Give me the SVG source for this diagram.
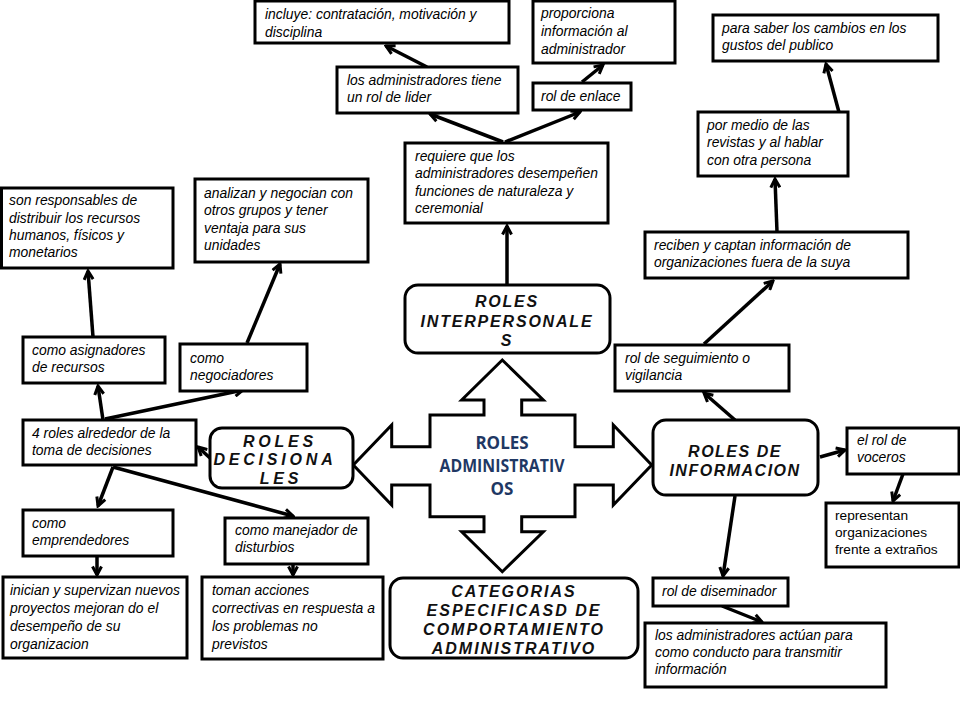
<svg xmlns="http://www.w3.org/2000/svg" width="960" height="720" viewBox="0 0 960 720">
<style>
.bx{fill:#fff;stroke:#000;stroke-width:3}
.t{font-family:"Liberation Sans",Arial,sans-serif;font-style:italic;font-size:13.9px;fill:#000}
.r{font-family:"Liberation Sans",Arial,sans-serif;font-size:13.7px;fill:#000}
.h{font-family:"Liberation Sans",Arial,sans-serif;font-style:italic;font-weight:bold;font-size:16px;fill:#111;text-anchor:middle}
.c line{stroke:#000;stroke-width:3.5;marker-end:url(#ah)}
</style>
<defs>
<marker id="ah" viewBox="0 0 12 12" refX="10" refY="6" markerWidth="12" markerHeight="12" markerUnits="userSpaceOnUse" orient="auto">
<path d="M1.5,1.5 L10,6 L1.5,10.5" fill="none" stroke="#000" stroke-width="3"/>
</marker>
</defs>
<rect width="960" height="720" fill="#fff"/>

<g id="connectors" class="c">
<line x1="507" y1="285" x2="507" y2="226"/>
<line x1="503" y1="142" x2="430" y2="114"/>
<line x1="505" y1="142" x2="580" y2="112"/>
<line x1="427" y1="67" x2="386" y2="46"/>
<line x1="582" y1="82" x2="603" y2="65"/>
<line x1="777" y1="232" x2="775" y2="179"/>
<line x1="847" y1="142" x2="826" y2="64"/>
<line x1="704" y1="344" x2="773" y2="281"/>
<line x1="735" y1="420" x2="704" y2="393"/>
<line x1="820" y1="457" x2="845" y2="450"/>
<line x1="903" y1="474" x2="893" y2="501"/>
<line x1="735" y1="496" x2="723" y2="576"/>
<line x1="722" y1="606" x2="762" y2="622"/>
<line x1="103" y1="420" x2="98" y2="386"/>
<line x1="105" y1="419" x2="243" y2="390"/>
<line x1="93" y1="337" x2="88" y2="271"/>
<line x1="247" y1="343" x2="280" y2="264"/>
<line x1="210" y1="458" x2="198" y2="447"/>
<line x1="113" y1="467" x2="98" y2="506"/>
<line x1="113" y1="467" x2="293" y2="516"/>
<line x1="97" y1="556" x2="97" y2="575"/>
<line x1="293" y1="564" x2="293" y2="575"/>
</g>

<g id="center">
<path class="bx" d="M502.3,360 L543.3,400 L521.7,400 L521.7,415 L575,415 L575,446.7 L613.3,446.7 L613.3,425 L651.7,465 L613.3,505 L613.3,485 L575,485 L575,516.7 L521.7,516.7 L521.7,531.7 L543.3,531.7 L502.3,571.7 L461.7,531.7 L484,531.7 L484,516.7 L430,516.7 L430,485 L391.7,485 L391.7,505 L353.3,465 L391.7,425 L391.7,446.7 L430,446.7 L430,415 L484,415 L484,400 L461.7,400 Z" stroke-width="2.5"/>
<g font-family="'Open Sans','Liberation Sans',sans-serif" font-weight="bold" font-size="17" fill="#1f3864" text-anchor="middle">
<text x="502" y="449">ROLES</text>
<text x="502" y="472" textLength="125" lengthAdjust="spacingAndGlyphs">ADMINISTRATIV</text>
<text x="502" y="495">OS</text>
</g>
</g>

<g id="interpersonales">
<rect class="bx" x="405" y="285" width="205" height="68" rx="13"/>
<text class="h" letter-spacing="1.8" x="507" y="307">ROLES</text>
<text class="h" letter-spacing="1.8" x="507" y="327">INTERPERSONALE</text>
<text class="h" letter-spacing="1.8" x="507" y="346">S</text>
</g>

<g id="decisionales">
<rect class="bx" x="210" y="428" width="143" height="60" rx="12"/>
<text class="h" letter-spacing="3.8" x="280" y="447">ROLES</text>
<text class="h" letter-spacing="3.8" x="275" y="465">DECISIONA</text>
<text class="h" letter-spacing="3.8" x="281" y="484">LES</text>
</g>

<g id="informacion">
<rect class="bx" x="653" y="420" width="165" height="75" rx="13"/>
<text class="h" letter-spacing="1.5" x="735" y="457">ROLES DE</text>
<text class="h" letter-spacing="1.5" x="735" y="476">INFORMACION</text>
</g>

<g id="categorias">
<rect class="bx" x="390" y="578" width="248" height="80" rx="13"/>
<text class="h" letter-spacing="2" x="514" y="597">CATEGORIAS</text>
<text class="h" letter-spacing="2" x="514" y="616">ESPECIFICASD DE</text>
<text class="h" letter-spacing="2" x="514" y="635">COMPORTAMIENTO</text>
<text class="h" letter-spacing="2" x="514" y="654">ADMINISTRATIVO</text>
</g>

<g id="n-incluye">
<rect class="bx" x="255" y="1" width="254" height="42"/>
<text class="t" x="265" y="19">incluye: contratación, motivación y</text>
<text class="t" x="265" y="37">disciplina</text>
</g>

<g id="n-proporciona">
<rect class="bx" x="533" y="1" width="142" height="62"/>
<text class="t" x="541" y="18">proporciona</text>
<text class="t" x="541" y="36">información al</text>
<text class="t" x="541" y="54">administrador</text>
</g>

<g id="n-lider">
<rect class="bx" x="337" y="67" width="181" height="46"/>
<text class="t" x="347" y="85">los administradores tiene</text>
<text class="t" x="347" y="102">un rol de lider</text>
</g>

<g id="n-enlace">
<rect class="bx" x="533" y="83" width="98" height="27"/>
<text class="t" x="541" y="101">rol de enlace</text>
</g>

<g id="n-requiere">
<rect class="bx" x="405" y="143" width="203" height="80"/>
<text class="t" x="415" y="161">requiere que los</text>
<text class="t" x="415" y="178">administradores desempeñen</text>
<text class="t" x="415" y="196">funciones de naturaleza y</text>
<text class="t" x="415" y="213">ceremonial</text>
</g>

<g id="n-gustos">
<rect class="bx" x="713" y="15" width="225" height="46"/>
<text class="t" x="722" y="33">para saber los cambios en los</text>
<text class="t" x="722" y="50">gustos del publico</text>
</g>

<g id="n-revistas">
<rect class="bx" x="698" y="112" width="150" height="64"/>
<text class="t" x="707" y="130">por medio de las</text>
<text class="t" x="707" y="147">revistas y al hablar</text>
<text class="t" x="707" y="165">con otra persona</text>
</g>

<g id="n-reciben">
<rect class="bx" x="645" y="232" width="263" height="46"/>
<text class="t" x="654" y="250">reciben y captan información de</text>
<text class="t" x="654" y="267">organizaciones fuera de la suya</text>
</g>

<g id="n-seguimiento">
<rect class="bx" x="615" y="345" width="174" height="46"/>
<text class="t" x="625" y="363">rol de seguimiento o</text>
<text class="t" x="625" y="380">vigilancia</text>
</g>

<g id="n-voceros">
<rect class="bx" x="847" y="428" width="112" height="46"/>
<text class="t" x="857" y="445">el rol de</text>
<text class="t" x="857" y="462">voceros</text>
</g>

<g id="n-representan">
<rect class="bx" x="826" y="503" width="133" height="64"/>
<text class="r" x="835" y="520">representan</text>
<text class="r" x="835" y="537">organizaciones</text>
<text class="r" x="835" y="554">frente a extraños</text>
</g>

<g id="n-diseminador">
<rect class="bx" x="653" y="578" width="135" height="28"/>
<text class="t" x="662" y="596">rol de diseminador</text>
</g>

<g id="n-conducto">
<rect class="bx" x="645" y="623" width="241" height="64"/>
<text class="t" x="655" y="640">los administradores actúan para</text>
<text class="t" x="655" y="657">como conducto para transmitir</text>
<text class="t" x="655" y="674">información</text>
</g>

<g id="n-responsables">
<rect class="bx" x="1.5" y="188" width="171.5" height="80"/>
<text class="t" x="9" y="205">son responsables de</text>
<text class="t" x="9" y="223">distribuir los recursos</text>
<text class="t" x="9" y="240">humanos, físicos y</text>
<text class="t" x="9" y="257">monetarios</text>
</g>

<g id="n-analizan">
<rect class="bx" x="195" y="179" width="173" height="83"/>
<text class="t" x="204" y="198">analizan y negocian con</text>
<text class="t" x="204" y="215">otros grupos y tener</text>
<text class="t" x="204" y="233">ventaja para sus</text>
<text class="t" x="204" y="250">unidades</text>
</g>

<g id="n-asignadores">
<rect class="bx" x="23" y="337" width="142" height="46"/>
<text class="t" x="32" y="355">como asignadores</text>
<text class="t" x="32" y="372">de recursos</text>
</g>

<g id="n-negociadores">
<rect class="bx" x="180" y="344" width="127" height="47"/>
<text class="t" x="190" y="363">como</text>
<text class="t" x="190" y="380">negociadores</text>
</g>

<g id="n-4roles">
<rect class="bx" x="23" y="420" width="173" height="45"/>
<text class="t" x="32" y="438">4 roles alrededor de la</text>
<text class="t" x="32" y="455">toma de decisiones</text>
</g>

<g id="n-emprendedores">
<rect class="bx" x="23" y="510" width="150" height="46"/>
<text class="t" x="32" y="528">como</text>
<text class="t" x="32" y="545">emprendedores</text>
</g>

<g id="n-manejador">
<rect class="bx" x="225" y="518" width="143" height="46"/>
<text class="t" x="235" y="535">como manejador de</text>
<text class="t" x="235" y="552">disturbios</text>
</g>

<g id="n-inician">
<rect class="bx" x="3" y="577" width="184" height="81"/>
<text class="t" x="10" y="595">inician y supervizan nuevos</text>
<text class="t" x="10" y="613">proyectos mejoran do el</text>
<text class="t" x="10" y="631">desempeño de su</text>
<text class="t" x="10" y="649">organizacion</text>
</g>

<g id="n-toman">
<rect class="bx" x="202" y="577" width="181" height="82"/>
<text class="t" x="212" y="595">toman acciones</text>
<text class="t" x="212" y="613">correctivas en respuesta a</text>
<text class="t" x="212" y="631">los problemas no</text>
<text class="t" x="212" y="649">previstos</text>
</g>
</svg>
